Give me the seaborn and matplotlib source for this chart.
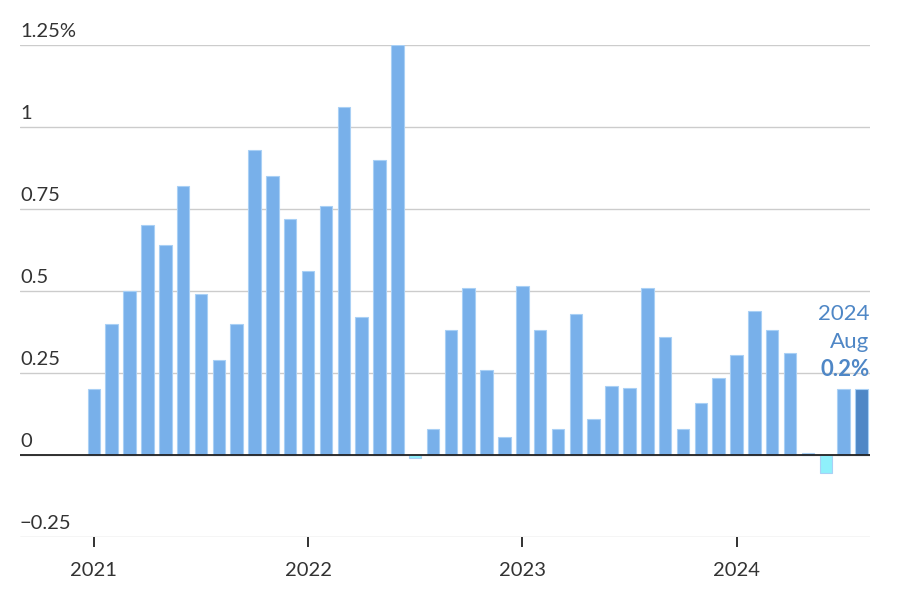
import matplotlib
matplotlib.use("Agg")
import matplotlib.pyplot as plt
import seaborn as sns
import pandas as pd

months = pd.date_range("2021-01-01", "2024-08-01", freq="MS").strftime("%Y-%m").tolist()
values = [
    0.20, 0.40, 0.50, 0.70, 0.64, 0.82, 0.49, 0.29, 0.40, 0.93, 0.85, 0.72,
    0.56, 0.76, 1.06, 0.42, 0.90, 1.25, -0.01, 0.08, 0.38, 0.51, 0.26, 0.055,
    0.515, 0.38, 0.08, 0.43, 0.11, 0.21, 0.205, 0.51, 0.36, 0.08, 0.16, 0.235,
    0.305, 0.44, 0.38, 0.31, 0.005, -0.055, 0.20, 0.20,
]
year_ticks = ["2021", "2022", "2023", "2024"]
y_ticks = [-0.25, 0, 0.25, 0.5, 0.75, 1, 1.25]
y_labels = ["\u22120.25", "0", "0.25", "0.5", "0.75", "1", "1.25%"]

kind = ["neg" if v < 0 else "pos" for v in values]
kind[-1] = "last"
df = pd.DataFrame({"month": months, "value": values, "kind": kind})

sns.set_theme(style="white")
plt.rcParams["font.family"] = ["Lato", "DejaVu Sans"]

fig = plt.figure(figsize=(9, 5.97), dpi=100)
ax = fig.add_axes([0.0222, 0.1005, 0.9445, 0.8241])

palette = {"pos": "#78b0ea", "neg": "#8ff0fb", "last": "#4f87c6"}
sns.barplot(data=df, x="month", y="value", hue="kind", palette=palette,
            dodge=False, width=0.7, legend=False, ax=ax, saturation=1,
            linewidth=0.8)
for bar in ax.patches:
    bar.set_edgecolor("#a9d0f5")

ax.set_ylim(-0.25, 1.25)
ax.set_xlim(-4.14, 43.48)
ax.set_yticks(y_ticks)
ax.set_yticklabels([])
ax.tick_params(axis="y", length=0)
ax.grid(axis="y", color="#cccccc", linewidth=1)
ax.set_axisbelow(True)
for s in ax.spines.values():
    s.set_visible(False)
ax.axhline(0, color="#222222", linewidth=1.3, zorder=3)

for yv, lab in zip(y_ticks, y_labels):
    ax.text(-4.14, yv + 0.016, lab, ha="left", va="bottom", fontsize=14.5,
            color="#333333")

tick_pos = [months.index(y + "-01") for y in year_ticks]
ax.set_xticks(tick_pos)
ax.set_xticklabels(year_ticks, fontsize=14.5, color="#333333")
ax.tick_params(axis="x", length=7, width=1.3, color="#222222", pad=11,
               direction="out", bottom=True)
ax.set_xlabel("")
ax.set_ylabel("")

last = len(values) - 1
ax.text(last + 0.45, 0.43, "2024", ha="right", va="center", fontsize=16,
        color="#4f87c6")
ax.text(last + 0.45, 0.345, "Aug", ha="right", va="center", fontsize=16,
        color="#4f87c6")
ax.text(last + 0.45, 0.26, "0.2%", ha="right", va="center", fontsize=16,
        color="#4f87c6", fontweight="bold")

fig.savefig("out.png", dpi=100)
